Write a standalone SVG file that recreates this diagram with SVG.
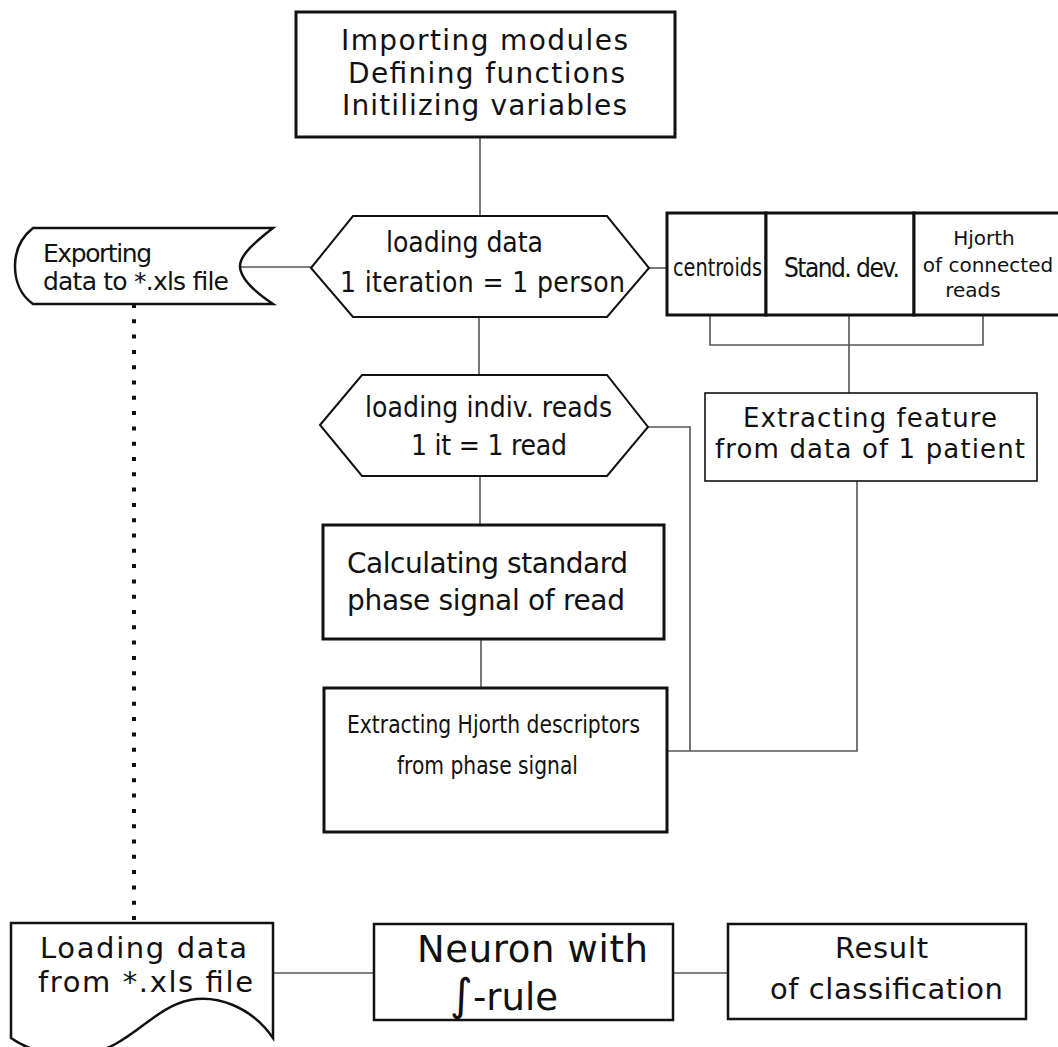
<svg xmlns="http://www.w3.org/2000/svg" width="1058" height="1047" viewBox="0 0 1058 1047">
<style>
.n{fill:#fff;stroke:#111}
.t{font-family:"DejaVu Sans","Verdana",sans-serif;fill:#111}
.c{font-family:"DejaVu Sans Condensed","DejaVu Sans",sans-serif;font-stretch:condensed;fill:#111}
.m{text-anchor:middle}
.ln{fill:none;stroke:#555;stroke-width:1.6}
</style>
<rect width="1058" height="1047" fill="#fff"/>
<g id="connectors">
<path class="ln" d="M480,137V216"/>
<path class="ln" d="M240,267H311"/>
<path class="ln" d="M649,268H667"/>
<path class="ln" d="M479,317V375"/>
<path class="ln" d="M480,476V525"/>
<path class="ln" d="M648,427H690V751"/>
<path class="ln" d="M667,751H857V481"/>
<path class="ln" d="M710,315V345H983V315M849,315V393"/>
<path class="ln" d="M481,639V688"/>
<path d="M134,304V920" fill="none" stroke="#111" stroke-width="4" stroke-dasharray="4 11.3"/>
<path class="ln" d="M273,973H374"/>
<path class="ln" d="M673,973H728"/>
</g>
<g id="init">
<rect class="n" x="296" y="12" width="379" height="125" stroke-width="3"/>
<text class="t" font-size="28" x="341" y="50" textLength="287" lengthAdjust="spacing">Importing modules</text>
<text class="t" font-size="28" x="348" y="83" textLength="277" lengthAdjust="spacing">Defining functions</text>
<text class="t" font-size="28" x="342" y="115" textLength="285" lengthAdjust="spacing">Initilizing variables</text>
</g>
<g id="export">
<path class="n" stroke-width="2.5" d="M33,228H273C255,242 240,255 240,266C240,278 255,292 273,304H33C20,295 15,280 15,266C15,255 18,240 33,228Z"/>
<text class="t" font-size="25" x="43" y="262" textLength="109" lengthAdjust="spacing">Exporting</text>
<text class="t" font-size="25" x="43" y="290" textLength="186" lengthAdjust="spacing">data to *.xls file</text>
</g>
<g id="loop1">
<path class="n" stroke-width="2" d="M311,268L353,216H607L649,268L607,317H353Z"/>
<text class="c" font-size="28" x="386" y="252" textLength="157" lengthAdjust="spacing">loading data</text>
<text class="c" font-size="28" x="340" y="292" textLength="285" lengthAdjust="spacing">1 iteration = 1 person</text>
</g>
<g id="features">
<rect class="n" x="667" y="213" width="99" height="102" stroke-width="3"/>
<rect class="n" x="766" y="213" width="148" height="102" stroke-width="3"/>
<rect class="n" x="914" y="213" width="148" height="102" stroke-width="3"/>
<text class="c" font-size="24" x="673" y="276" textLength="89" lengthAdjust="spacingAndGlyphs">centroids</text>
<text class="c" font-size="26" x="784" y="277" textLength="116" lengthAdjust="spacing">Stand. dev.</text>
<text class="t m" font-size="20" x="984" y="245">Hjorth</text>
<text class="t m" font-size="20" x="988" y="272">of connected</text>
<text class="t m" font-size="20" x="973" y="297">reads</text>
</g>
<g id="extractfeature">
<rect class="n" x="705" y="393" width="332" height="88" stroke-width="1.6"/>
<text class="t" font-size="26" x="743" y="427" textLength="254" lengthAdjust="spacing">Extracting feature</text>
<text class="t" font-size="26" x="715" y="458" textLength="310" lengthAdjust="spacing">from data of 1 patient</text>
</g>
<g id="loop2">
<path class="n" stroke-width="2" d="M320,425L362,375H607L648,427L607,476H362Z"/>
<text class="c" font-size="28" x="365" y="417" textLength="247" lengthAdjust="spacing">loading indiv. reads</text>
<text class="c" font-size="28" x="411" y="455" textLength="156" lengthAdjust="spacing">1 it = 1 read</text>
</g>
<g id="calc">
<rect class="n" x="323" y="525" width="341" height="114" stroke-width="3"/>
<text class="t" font-size="28" x="347" y="573" textLength="281" lengthAdjust="spacing">Calculating standard</text>
<text class="t" font-size="28" x="347" y="610" textLength="278" lengthAdjust="spacing">phase signal of read</text>
</g>
<g id="hjorth">
<rect class="n" x="324" y="688" width="343" height="144" stroke-width="3"/>
<text class="c" font-size="25" x="347" y="733" textLength="293" lengthAdjust="spacingAndGlyphs">Extracting Hjorth descriptors</text>
<text class="c" font-size="25" x="397" y="774" textLength="181" lengthAdjust="spacingAndGlyphs">from phase signal</text>
</g>
<g id="loadxls">
<path class="n" stroke-width="2.5" d="M11,923H273V1038C250,1005 215,995 190,1000C150,1008 130,1050 80,1055C50,1058 25,1048 11,1038Z"/>
<text class="t" font-size="29" x="40" y="958" textLength="207" lengthAdjust="spacing">Loading data</text>
<text class="t" font-size="29" x="38" y="992" textLength="215" lengthAdjust="spacing">from *.xls file</text>
</g>
<g id="neuron">
<rect class="n" x="374" y="924" width="299" height="96" stroke-width="2.5"/>
<text class="t" font-size="37" x="417" y="962" textLength="231" lengthAdjust="spacing">Neuron with</text>
<text class="t" font-size="37" x="450" y="1010"><tspan font-size="44">∫</tspan>-rule</text>
</g>
<g id="result">
<rect class="n" x="728" y="924" width="298" height="95" stroke-width="2.5"/>
<text class="t" font-size="29" x="835" y="958" textLength="93" lengthAdjust="spacing">Result</text>
<text class="t" font-size="29" x="770" y="999" textLength="233" lengthAdjust="spacing">of classification</text>
</g>
</svg>
